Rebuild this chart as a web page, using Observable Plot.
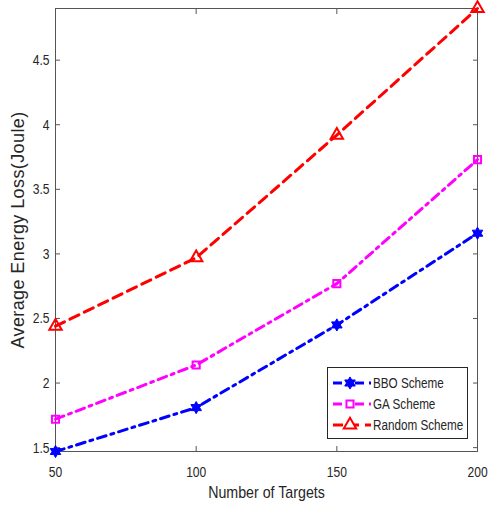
<!DOCTYPE html>
<html>
<head>
<meta charset="utf-8">
<script src="https://cdn.jsdelivr.net/npm/d3@7"></script>
<script src="https://cdn.jsdelivr.net/npm/@observablehq/plot@0.6"></script>
<style>
  html, body { margin: 0; padding: 0; background: #fff; }
  #wrap { position: relative; width: 492px; height: 507px; }
  #legend { position: absolute; }
</style>
</head>
<body>
<div id="wrap"></div>
<script>
// ---- data ----
const targets = [50, 100, 150, 200];
const bboScheme = [1.47, 1.81, 2.45, 3.16];
const gaScheme = [1.72, 2.14, 2.77, 3.73];
const randomScheme = [2.44, 2.97, 3.92, 4.90];
const seriesNames = ["BBO Scheme", "GA Scheme", "Random Scheme"];
const xTicks = [50, 100, 150, 200];
const yTicks = [1.5, 2, 2.5, 3, 3.5, 4, 4.5];
const xLabel = "Number of Targets";
const yLabel = "Average Energy Loss(Joule)";

// ---- styles ----
const colors = ["#0000ff", "#ff00ff", "#ff0000"];
const dashes = ["9,5,3,5", "9,5,3,5", "10,6"];
const markerR = [4.5, 4, 4.6];
const FONT = '"Liberation Sans", Arial, sans-serif';

const hexagram = {
  draw(context, size) {
    const R = Math.sqrt(size / Math.PI) * 1.35;
    const r = R / Math.sqrt(3);
    for (let i = 0; i < 12; i++) {
      const a = Math.PI / 6 * i - Math.PI / 2;
      const rr = i % 2 ? r : R;
      const x = rr * Math.cos(a), y = rr * Math.sin(a);
      if (i) context.lineTo(x, y); else context.moveTo(x, y);
    }
    context.closePath();
  }
};
const symbols = [hexagram, d3.symbolSquare, d3.symbolTriangle];
const fills = ["#0000ff", "none", "none"];

const seriesValues = [bboScheme, gaScheme, randomScheme];
const rows = [];
seriesNames.forEach((name, s) => {
  targets.forEach((t, i) => rows.push({series: name, s, x: t, y: seriesValues[s][i]}));
});

const marks = [];
seriesNames.forEach((name, s) => {
  const data = rows.filter(d => d.s === s);
  marks.push(Plot.line(data, {x: "x", y: "y", stroke: colors[s], strokeWidth: 3, strokeDasharray: dashes[s]}));
});
seriesNames.forEach((name, s) => {
  const data = rows.filter(d => d.s === s);
  marks.push(Plot.dot(data, {x: "x", y: "y", symbol: () => symbols[s], r: markerR[s], stroke: colors[s], strokeWidth: s === 0 ? 1 : 2, fill: fills[s]}));
});

const plot = Plot.plot({
  width: 492,
  height: 507,
  marginLeft: 55,
  marginRight: 15,
  marginTop: 8,
  marginBottom: 56,
  style: {fontFamily: FONT, fontSize: "15.5px", color: "#262626", background: "#fff"},
  x: {domain: [50, 200]},
  y: {domain: [1.47, 4.9]},
  symbol: {type: "identity"},
  marks: [
    Plot.frame({stroke: "#555", strokeWidth: 1}),
    Plot.axisX({ticks: xTicks, tickSize: -5, tickPadding: 19, label: xLabel, labelAnchor: "center", labelArrow: "none", labelOffset: 46, stroke: "#555"}),
    Plot.axisX({anchor: "top", ticks: xTicks, tickSize: -5, tickFormat: () => "", label: null, stroke: "#555"}),
    Plot.axisY({ticks: yTicks, tickSize: -5, tickPadding: 11, tickFormat: d => String(d), label: yLabel, labelAnchor: "center", labelArrow: "none", labelOffset: 44, stroke: "#555"}),
    Plot.axisY({anchor: "right", ticks: yTicks, tickSize: -5, tickFormat: () => "", label: null, stroke: "#555"}),
    ...marks
  ]
});

const wrap = document.getElementById("wrap");
wrap.appendChild(plot);

const yl = plot.querySelector('[aria-label="y-axis label"]');
if (yl) {
  yl.style.fontFamily = FONT;
  yl.style.fontSize = "18px";
  yl.style.letterSpacing = "0.4px";
}
const xl = plot.querySelector('[aria-label="x-axis label"]');
if (xl) xl.style.fontSize = "16px";

// squeeze a text element horizontally around its anchor (mimic a condensed font)
const SVGNS = "http://www.w3.org/2000/svg";
function squeeze(t, sx) {
  const g = document.createElementNS(SVGNS, "g");
  t.parentNode.insertBefore(g, t);
  g.appendChild(t);
  const bb = g.getBBox();
  const anchor = getComputedStyle(t).textAnchor;
  const cx = anchor === "end" ? bb.x + bb.width : anchor === "middle" ? bb.x + bb.width / 2 : bb.x;
  g.setAttribute("transform", `translate(${cx},0) scale(${sx},1) translate(${-cx},0)`);
}
plot.querySelectorAll('[aria-label="x-axis tick label"] text, [aria-label="y-axis tick label"] text')
  .forEach(t => squeeze(t, 0.78));
if (xl) xl.querySelectorAll("text").forEach(t => squeeze(t, 0.89));

// ---- legend ----
const lg = d3.select(wrap).append("svg")
  .attr("id", "legend")
  .attr("width", 141).attr("height", 72)
  .style("left", "327px").style("top", "367px");
lg.append("rect").attr("x", 0.5).attr("y", 0.5).attr("width", 140).attr("height", 71)
  .attr("fill", "#fff").attr("stroke", "#262626");
seriesNames.forEach((name, s) => {
  const cy = 16 + s * 21;
  lg.append("line").attr("x1", 6).attr("x2", 44).attr("y1", cy).attr("y2", cy)
    .attr("stroke", colors[s]).attr("stroke-width", 3).attr("stroke-dasharray", dashes[s]);
  const rr = markerR[s];
  lg.append("path").attr("transform", `translate(23,${cy})`)
    .attr("d", d3.symbol(symbols[s], Math.PI * rr * rr)())
    .attr("fill", s === 0 ? colors[s] : "#fff").attr("stroke", colors[s]).attr("stroke-width", s === 0 ? 1 : 2);
  lg.append("text").attr("transform", `translate(46,${cy}) scale(0.78,1)`).attr("dy", "0.35em")
    .attr("font-family", FONT).attr("font-size", 15).attr("fill", "#262626")
    .text(name);
});
</script>
</body>
</html>
